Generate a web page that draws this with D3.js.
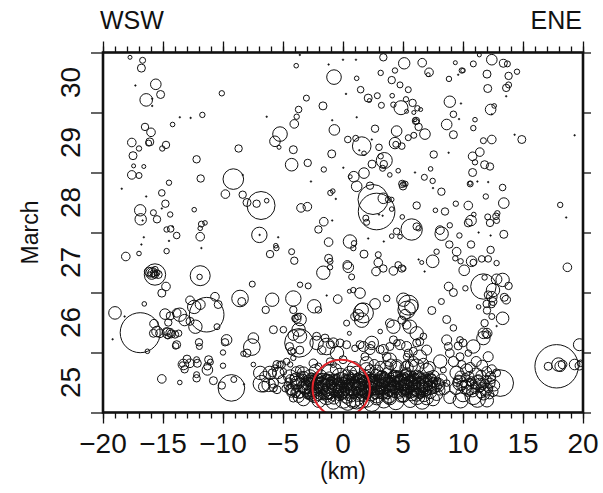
<!DOCTYPE html>
<html>
<head>
<meta charset="utf-8">
<script src="https://cdn.jsdelivr.net/npm/d3@7"></script>
<style>
  body { margin: 0; background: #fff; }
  svg text { font-family: "Liberation Sans", Arial, Helvetica, sans-serif; fill: #111; }
</style>
</head>
<body>
<div id="chart"></div>
<script>
// distance along profile (km), time (day of March), symbol size
var mainshock = [-0.15, 25.40, 28.7];

var quakesWest = [
  [-17.75,30.92,2],[-16.7,30.87,3],[-16.8,30.74,4],[-17.3,30.45,0.8],[-15.6,30.47,5.3],[-15.2,30.30,4],
  [-16.4,30.21,6.3],[-15.9,30.23,0.8],[-15.9,30.11,0.8],[-10.1,30.32,2.7],[-3.9,30.78,2.3],[-3.6,30.96,0.8],
  [-1.2,30.80,0.8],[0,30.88,0.8],[-0.75,30.59,7.3],[0.25,30.31,0.8],[-3.05,30.24,3],[-1.67,30.11,4],
  [-3.7,30.05,3.3],[-3.86,29.93,2.7],[-4.06,29.81,4.3],[-6.36,29.93,0.8],[-0.9,29.87,0.8],[-0.72,29.71,5.3],
  [0.4,29.55,3.3],[-5.25,29.64,7.3],[-5.67,29.52,5.3],[-5.33,29.42,2],[-4.14,29.38,4],[-0.94,29.31,4],
  [-4.28,29.13,6.3],[-2.94,29.16,3.7],[-1.6,29.05,2.7],[0.03,29.08,0.8],[0.6,28.93,2],[-2.67,28.85,0.8],
  [-9.14,28.89,10.3],[-8.36,28.96,0.8],[-11.86,28.9,3.7],[-14.5,28.83,2.7],[-18.44,28.73,0.8],[-12.2,29.22,3.7],
  [-8.7,29.40,3.7],[-11.72,29.96,2.7],[-12.7,29.91,0.8],[-13.6,29.92,0.8],[-14.2,29.8,2.3],[-16.5,29.76,3.7],
  [-16.0,29.67,4.3],[-16.1,29.51,4],[-16.2,29.49,3],[-17.6,29.5,4.3],[-17.0,29.4,2.7],[-14.75,29.46,3.7],
  [-15.06,29.40,2.7],[-17.5,29.28,4],[-17.45,29.11,2],[-16.6,29.1,2],[-17.6,28.96,4.3],[-17.0,28.95,3],
  [-16.4,28.6,0.8],[-15.1,28.66,3.3],[-14.8,28.48,3.7],[-16.9,28.37,5.7],[-16.86,28.22,5.7],[-16.7,28.2,0.8],
  [-15.8,28.33,3],[-15.5,28.22,3.7],[-14.4,28.3,2.7],[-15.1,28.4,0.8],[-14.7,28.05,2.7],[-14.36,28.06,3.3],
  [-13.86,27.95,3.3],[-14.2,28.1,0.8],[-14.5,27.86,0.8],[-16.6,27.92,0.8],[-16.8,27.8,0.8],[-14.7,27.69,2.7],
  [-17.0,27.65,2.3],[-18.1,27.6,4.3],[-12.4,28.38,2.3],[-11.8,28.14,3],[-11.5,28.16,2.3],[-11.9,28.07,2.3],
  [-11.9,27.93,4.3],[-11.8,27.74,0.8],[-9.8,28.64,4.3],[-8.36,28.63,3.7],[-8.0,28.5,4],[-6.83,28.45,14],
  [-7.2,28.48,3.7],[-6.36,28.53,2.3],[-6.97,27.96,7.7],[-6.95,27.96,0.8],[-5.4,27.92,0.8],[-5.6,27.78,2.3],
  [-5.55,27.74,2.7],[-6.08,27.64,3.7],[-4.28,27.68,3],[-4.06,27.53,3.7],[-3.5,28.41,4.3],[-2.97,28.43,4.3],
  [-1.05,28.66,2.7],[-0.85,28.69,2.3],[-0.6,28.56,0.8],[-0.9,28.2,0.8],[-1.6,28.18,4.3],[-2.05,28.05,3.7],
  [-1.2,27.84,4.3],[-1.2,27.57,4],[-1.08,27.52,3],[-1.64,27.33,6.7],[-1.08,27.42,2.7],[-11.9,27.28,10],
  [-11.95,27.26,2.7],[-15.94,27.32,6],[-16.2,27.35,4.3],[-15.9,27.33,4.3],[-15.8,27.32,3.3],[-15.67,27.38,3.3],
  [-16.1,27.3,2.7],[-15.67,27.3,3.7],[-15.4,27.3,4],[-15.5,27.33,3],[-15.67,27.3,10.7],[-14.75,27.1,4.3],
  [-15.1,26.99,4],[-16.56,26.81,2.3],[-19.0,26.66,6.3],[-18.2,26.6,0.8],[-16.9,26.33,20],[-15.75,26.48,4.3],
  [-15.5,26.35,5.3],[-15.8,26.32,4],[-15.25,26.32,4.3],[-14.7,26.35,4],[-14.4,26.33,4.3],[-14.6,26.32,5.3],
  [-14.3,26.31,4],[-14.0,26.3,3.7],[-13.7,26.32,3.3],[-14.6,26.27,2.7],[-14.83,26.64,5.3],[-14.4,26.61,4],
  [-13.6,26.63,6.7],[-13.86,26.66,4.3],[-14.56,26.5,3.7],[-13.2,26.54,5.7],[-12.75,26.87,4.3],[-12.4,26.76,6.7],
  [-11.9,26.8,5],[-12.75,26.52,4],[-11.36,26.63,17.3],[-12.3,26.43,6.7],[-10.67,26.93,4.3],[-10.4,26.8,4],
  [-10.5,26.43,3],[-8.58,26.9,8.3],[-8.44,26.85,4],[-7.56,27.14,3],[-5.9,26.88,6.7],[-6.44,26.71,3.7],
  [-4.14,26.9,7.7],[-4.14,26.71,3.7],[-2.4,26.77,6.7],[-2.05,26.71,3.3],[-3.58,27.13,2.7],[-2.9,27.11,3],
  [-0.44,26.89,4.3],[-1.36,26.95,0.8],[-3.58,26.55,6.3],[-3.86,26.56,4.3],[-4.0,26.57,3.3],[-3.75,26.6,3.3],
  [-3.7,26.38,6.7],[-4.14,26.29,5.3],[-3.58,26.27,6.7],[-4.97,26.38,3.3],[-5.8,26.38,4],[-2.2,26.27,4],
  [-1.5,26.24,4],[-9.7,26.21,5.3],[-7.47,26.24,5.3],[-16.3,26.02,2.3],[-19.2,26.22,0.8],[-13.95,26.11,3.3],
  [-13.86,26.13,4],[-13.4,25.8,2.7],[-15.1,25.56,4.3],[-13.6,25.5,2.3],[-12.0,26.17,3.7],[-11.97,26.1,3],
  [-9.83,26.17,3.7],[-10.0,26.0,2.7],[-7.6,26.09,8.3],[-8.3,25.98,2.7],[-7.47,25.8,2.3],[-13.0,25.89,4],
  [-12.75,25.82,4.3],[-12.14,25.82,4],[-12.2,25.88,3],[-13.3,25.8,5.3],[-13.2,25.72,3.7],[-11.2,25.88,4],
  [-11.05,25.84,3],[-11.3,25.77,3.7],[-11.3,25.71,5.3],[-10.0,25.78,2.7],[-12.2,25.57,3.7],[-12.2,25.63,3],
  [-10.8,25.53,4],[-9.3,25.41,13.3],[-10.1,25.45,3.7],[-9.1,25.55,3],[-8.25,25.47,0.8],[-8.0,25.99,4]
];

var quakesEast = [
  [3.36,30.92,3.7],[1.08,30.88,0.8],[5.1,30.82,5.7],[6.6,30.83,4.3],[7.17,30.67,4.3],[7.1,30.63,2],
  [9.36,30.83,2],[9.9,30.70,2.7],[10.0,30.70,2.3],[10.86,30.81,3],[11.36,30.96,2],[12.4,30.88,5.3],
  [13.36,30.82,4],[13.7,30.81,3],[14.5,30.68,2.7],[13.8,30.61,3.7],[12.0,30.64,4],[3.14,30.66,2.7],
  [4.33,30.70,2.7],[1.14,30.57,2.3],[4.06,30.54,3.7],[4.75,30.46,3],[5.44,30.38,3],[8.83,30.56,2.7],
  [9.6,30.63,0.8],[1.47,30.38,3.3],[2.1,30.24,4],[2.2,30.2,2],[2.86,30.28,3],[3.2,30.12,3],
  [4.1,30.28,2.3],[4.83,30.08,7],[4.2,30.13,2.7],[5.25,30.22,2.7],[5.8,30.16,3.7],[6.2,30.07,2.7],
  [6.47,30.05,2],[5.9,30.0,2],[5.3,30.02,2],[12.06,30.4,4],[13.6,30.41,3.7],[13.8,30.46,3],
  [13.6,30.27,0.8],[8.9,30.18,5.7],[9.83,30.15,0.8],[12.3,30.05,5.3],[12.6,30.11,2.3],[12.4,29.97,0.8],
  [6.08,29.86,3.7],[6.1,29.85,2.7],[6.0,29.88,2],[6.3,29.76,3.7],[6.83,29.64,5.3],[5.9,29.62,3],
  [5.44,29.58,3],[4.47,29.69,5.3],[4.33,29.49,5.7],[4.4,29.47,3],[4.9,29.44,3.3],[2.67,29.73,3.7],
  [1.14,29.92,0.8],[1.56,29.44,9.3],[1.06,29.57,3],[2.4,29.55,0.8],[1.75,29.32,2.3],[1.36,29.37,0.8],
  [3.0,29.42,3.3],[3.44,29.2,8],[3.14,29.27,2.7],[3.4,29.14,3.7],[3.3,29.07,3],[2.42,29.14,4],
  [1.75,28.99,5.3],[0.9,28.93,5.3],[1.14,28.77,5.3],[3.9,28.96,2.3],[4.6,29.03,2.3],[5.2,28.81,2.7],
  [5.0,28.77,3.7],[6.0,29.0,0.8],[6.78,28.92,3],[7.3,29.06,2.3],[7.47,28.86,2.7],[7.56,29.3,3.7],
  [8.8,29.33,0.8],[8.64,29.8,5.3],[9.2,29.63,4],[9.2,29.97,3.3],[9.67,29.89,0.8],[11.0,29.88,2.3],
  [10.86,29.74,2.7],[11.7,29.53,3],[12.4,29.55,4.3],[11.4,29.34,4.3],[10.8,29.27,4.3],[11.0,29.17,2.7],
  [11.8,29.13,4],[12.25,29.1,3.7],[10.8,29.0,4],[10.6,28.81,3],[10.6,28.82,2],[11.2,28.85,0.8],
  [12.1,28.84,0.8],[13.3,28.75,3.3],[14.3,29.63,0.8],[14.9,29.55,4],[19.3,29.62,0.8],
  [2.25,28.78,3.7],[2.5,28.55,15],[2.8,28.35,18.3],[3.36,28.57,5.3],[3.78,28.55,3],[4.06,28.55,2.3],
  [1.9,28.24,3],[1.97,28.17,3],[4.06,28.39,2.3],[3.0,28.3,0.8],[3.3,28.28,0.8],[4.94,28.81,3.7],
  [5.0,28.81,2.3],[4.94,28.26,2.3],[6.14,28.45,3.7],[8.2,28.68,3.7],[11.9,28.6,2.7],[13.4,28.49,5.3],
  [10.44,28.45,4.3],[9.4,28.48,2.7],[8.5,28.35,3.7],[7.7,28.37,2.3],[7.5,28.74,0.8],[10.67,28.2,5.3],
  [10.44,28.16,4],[10.9,28.3,2.3],[12.06,28.26,3],[12.25,28.16,3.7],[12.75,28.27,3.3],[12.8,28.2,3],
  [12.86,28.32,2.7],[11.3,28.0,0.8],[12.3,27.95,0.8],[13.4,27.97,4],[5.72,28.05,10.7],[6.14,28.1,3.7],
  [6.3,28.07,2.7],[4.47,28.02,3.3],[4.75,27.93,2.3],[4.06,27.94,2.3],[8.22,27.98,6.7],[8.08,28.04,4.3],
  [8.9,28.12,2.7],[9.7,27.95,2.7],[8.86,27.8,3.7],[9.47,27.68,4.3],[9.36,27.57,2.7],[9.8,27.52,2.7],
  [10.67,27.8,3.7],[10.72,27.52,5.3],[10.86,27.5,3.3],[10.1,27.37,5.3],[11.56,27.56,3.3],[12.1,27.56,3.3],
  [12.3,27.71,3.7],[12.8,27.49,2.7],[7.8,27.68,2.7],[7.47,27.52,6.3],[6.56,27.5,2],[6.3,27.55,0.8],
  [6.8,27.35,0.8],[4.6,27.46,3.3],[4.9,27.4,3.7],[5.03,27.4,2.7],[4.2,27.36,4.3],[3.36,27.4,3.7],
  [2.94,27.5,4.3],[2.75,27.35,4.3],[2.94,27.63,3],[1.75,27.64,4],[0.58,27.85,6.7],[0.92,27.82,2.7],
  [0.86,27.74,2.7],[2.1,27.9,0.8],[3.4,27.85,0.8],[0.44,27.42,5.3],[0.36,27.46,4.3],[0.72,27.26,3],
  [1.42,26.99,5.3],[0.86,27.04,2.7],[0.53,27.02,2],[2.67,26.81,5.3],[3.64,26.9,3.3],[1.56,26.71,6.7],
  [1.28,26.63,5.3],[1.56,26.54,7.3],[1.0,26.6,4.3],[1.7,26.66,10],[0.3,26.49,3],[0.53,26.32,2],
  [3.1,26.35,2.3],[4.2,26.43,6.7],[3.9,26.49,4.3],[5.03,26.88,6.7],[5.3,26.71,8.7],[5.44,26.79,10],
  [5.7,26.77,6.7],[5.17,26.63,5.3],[4.9,26.54,4],[5.3,26.46,4.3],[5.58,26.43,6.7],[6.14,26.32,6.7],
  [7.4,26.7,4],[8.2,26.85,3],[8.64,26.55,4],[9.2,26.41,3.3],[8.8,27.1,4.3],[9.2,27.0,4],
  [10.2,27.07,2.7],[11.7,27.1,12.7],[11.8,27.25,2.7],[12.5,27.04,6.7],[12.8,27.22,5.3],[13.3,27.21,6.7],
  [13.8,27.11,3.7],[13.44,26.92,4],[13.6,26.88,4.3],[12.4,26.93,5.3],[12.1,26.96,4],[11.97,26.81,3.7],
  [11.3,26.76,2.3],[12.5,26.85,4],[12.4,26.8,3.3],[12.0,26.7,3.7],[12.4,26.6,3],[13.3,26.57,6.3],
  [11.8,26.49,3.7],[12.8,26.44,0.8],[11.7,26.32,5.3],[12.0,26.3,3.7],[18.1,28.46,2.7],[18.6,28.25,0.8],
  [18.7,27.42,4.3]
];

// March 25 sequence near the hypocentre
var quakesBand = [
  [-6.9,25.66,6.7],[-6.5,25.6,5.3],[-5.9,25.66,4],[-5.67,25.74,3.3],[-5.25,25.8,3.3],[-6.2,25.46,6.7],
  [-5.8,25.49,5],[-6.6,25.43,5.3],[-5.5,25.38,4],[-5.1,25.55,4],[-4.97,25.68,3.3],[-4.3,26.02,3.7],
  [-4.45,26.1,4],[-4.14,25.91,2.7],[-4.4,25.6,6.7],[-3.86,25.55,6.7],[-3.3,25.66,6],[-2.75,25.6,6.7],
  [-4.4,25.38,5],[-3.7,25.35,6.7],[-3.0,25.38,6.7],[-2.6,25.27,5],[-4.14,25.24,4],[-2.2,25.43,6],
  [-3.6,25.71,4.3],[-1.64,25.43,13.3],[-0.5,25.41,10],[0.86,25.32,13.3],[-1.08,25.66,8.3],[-0.25,25.6,8.3],
  [0.58,25.66,6.7],[-1.36,25.27,8.3],[0.03,25.21,8.3],[1.14,25.18,7.3],[1.42,25.49,8.3],[-1.36,26.1,8.3],
  [-0.5,25.99,6.7],[-0.8,26.16,5],[0.3,26.13,4],[1.0,26.07,3.3],[1.7,26.1,5],[2.4,26.13,3.3],
  [3.1,26.05,4],[3.9,26.1,4],[4.5,26.16,3.3],[5.3,26.1,5],[5.86,26.02,4],[6.14,26.16,4],
  [1.97,25.82,6.7],[3.1,25.77,5],[3.9,25.88,6.7],[4.47,25.77,5],[5.3,25.8,4],[5.86,25.85,5],
  [2.25,25.71,5],[2.5,25.49,6.7],[3.36,25.55,6.7],[4.2,25.43,6.7],[5.03,25.55,6.7],[5.86,25.49,6.7],
  [2.8,25.27,6.7],[3.9,25.24,6.7],[5.03,25.27,6],[6.14,25.3,6.7],[1.97,25.32,6],[3.64,25.66,5],
  [5.3,25.66,5],[1.42,26.13,4],[2.4,26.16,6.7],[2.25,26.05,5],[1.83,25.93,4],[4.2,26.21,4],
  [4.75,26.13,5],[5.44,25.99,4],[5.3,25.93,3.3],[3.64,25.93,4.3],[3.36,26.05,5],[6.4,25.93,6.7],
  [6.97,26.04,5],[6.7,26.27,3.3],[6.4,26.18,4],[8.64,26.21,5],[8.78,26.1,4],[9.6,26.11,4],
  [9.75,26.21,3.3],[10.0,26.16,4],[8.9,25.99,4.3],[8.1,25.85,6.7],[9.2,25.85,5],[9.75,25.93,4],
  [10.44,25.99,3.3],[10.86,26.1,6.7],[11.7,26.24,6.7],[12.0,26.32,5],[11.1,25.85,5],[12.1,25.93,5],
  [9.9,25.8,4],[-3.67,26.16,14.3],[-2.2,26.16,6.7],[-1.78,26.04,4.3],[-1.08,26.13,3.7],[-0.25,26.16,4],
  [-2.47,25.82,4.3],[-2.05,25.77,3.3],[-1.08,25.85,3.7],[-0.8,25.8,3],[0.0,25.88,4],
  [-6.8,25.48,8.3],[-5.8,25.41,4],[-6.1,25.66,6.7],[-5.4,25.66,5.7],[-5.5,25.8,4],[-5.1,25.8,3.7],
  [-4.7,25.85,3.3],[-4.4,25.8,2.7],[-4.14,26.02,2.7],[-3.6,26.04,4],
  [0.3,25.6,6.7],[1.14,25.66,6.7],[1.97,25.71,7.3],[2.8,25.68,6.7],[3.64,25.74,6.7],[4.47,25.77,6.7],
  [5.3,25.74,6.7],[6.14,25.77,7.3],[6.97,25.71,6.7],[7.53,25.6,6],[0.58,25.35,6.7],[1.42,25.38,8.3],
  [2.25,25.41,6.7],[3.1,25.43,7.3],[3.9,25.46,6.7],[4.75,25.49,6.7],[5.58,25.46,7.3],[6.4,25.43,8.3],
  [7.25,25.41,6.7],[0.86,25.18,6.7],[1.97,25.21,7.3],[2.8,25.24,6.7],[3.9,25.27,6.7],[5.03,25.3,7.3],
  [6.14,25.27,8.3],[6.97,25.24,6.7],[7.8,25.3,6],[7.94,25.46,6.7],
  [9.47,25.66,6.7],[10.3,25.71,6],[11.1,25.63,6.7],[11.97,25.68,5],[9.75,25.49,7.3],[10.58,25.43,8.3],
  [11.4,25.46,6.7],[12.25,25.49,5],[10.0,25.3,7.3],[10.86,25.27,8.3],[11.7,25.32,6.7],[12.5,25.35,5],
  [13.1,25.49,13.3],[12.8,25.66,4],[8.36,25.71,3],[8.64,25.49,3.3]
];

var quakesCore = [
  [-4.6,25.45,4],[-4.5,25.52,3.5],[-4.3,25.33,4.5],[-4.0,25.47,5],[-3.9,25.41,3.5],[-4.1,25.58,4],
  [-3.5,25.5,4.5],[-3.4,25.42,5.5],[-3.6,25.3,3.8],[-3.3,25.57,4],[-3.1,25.46,5],[-2.9,25.52,4.2],
  [-3.0,25.31,4.6],[-2.8,25.41,3.6],[-2.6,25.48,5.2],[-2.4,25.36,4.4],[-2.5,25.55,4],[-2.3,25.44,3.4],
  [-2.0,25.5,5],[-1.9,25.39,4.6],[-2.1,25.29,5.4],[-1.8,25.58,4.2],[-2.0,25.45,3.2],[-1.5,25.47,4.8],
  [-1.4,25.36,5.2],[-1.6,25.55,4],[-1.3,25.25,4.6],[-1.5,25.42,3],[-1.0,25.5,5.5],[-0.9,25.4,4.2],
  [-1.1,25.31,5],[-0.8,25.57,4.4],[-1.0,25.45,3.4],[-0.5,25.48,4.8],[-0.4,25.35,5.6],[-0.6,25.56,4.2],
  [-0.3,25.27,4.4],[-0.5,25.42,3.2],[0.0,25.5,5],[0.1,25.4,4.4],[-0.1,25.3,5.2],[0.2,25.58,4],
  [0.0,25.45,3],[0.5,25.47,5.4],[0.6,25.37,4.6],[0.4,25.55,4.2],[0.7,25.26,5],[0.5,25.42,3.4],
  [1.0,25.5,4.8],[1.1,25.41,5.2],[0.9,25.31,4.4],[1.2,25.59,4],[1.0,25.45,3],[1.5,25.48,5],
  [1.6,25.36,4.6],[1.4,25.56,4.4],[1.7,25.27,5.2],[1.5,25.43,3.2],[2.0,25.52,5.2],[2.1,25.42,4.4],
  [1.9,25.33,5],[2.2,25.6,4.2],[2.0,25.47,3],[2.5,25.5,4.8],[2.6,25.39,5.4],[2.4,25.58,4],
  [2.7,25.3,4.6],[2.5,25.45,3.4],[3.0,25.53,5],[3.1,25.43,4.4],[2.9,25.34,5.2],[3.2,25.62,4.2],
  [3.0,25.48,3],[3.5,25.5,5.4],[3.6,25.4,4.6],[3.4,25.59,4.4],[3.7,25.31,5],[3.5,25.46,3.2],
  [4.0,25.54,5],[4.1,25.44,4.8],[3.9,25.35,5.2],[4.2,25.63,4],[4.0,25.49,3.4],[4.5,25.52,5.2],
  [4.6,25.41,4.4],[4.4,25.6,4.6],[4.7,25.32,5],[4.5,25.47,3],[5.0,25.55,4.8],[5.1,25.45,5.4],
  [4.9,25.36,4.4],[5.2,25.64,4.2],[5.0,25.5,3.2],[5.5,25.53,5],[5.6,25.42,4.6],[5.4,25.61,4.4],
  [5.7,25.33,5.2],[5.5,25.48,3],[6.0,25.56,5.2],[6.1,25.46,4.4],[5.9,25.37,5],[6.2,25.64,4],
  [6.0,25.5,3.4],[6.5,25.52,4.8],[6.6,25.42,5.4],[6.4,25.6,4.2],[6.7,25.33,4.6],[7.0,25.55,5],
  [7.1,25.45,4.4],[6.9,25.36,5.2],[7.2,25.62,3.8],[7.5,25.5,4.6],[7.6,25.4,5],[7.4,25.58,4],
  [8.0,25.47,4.4],[8.1,25.37,4.8],[9.6,25.55,4.4],[9.9,25.45,5],[10.2,25.58,4.2],[10.4,25.36,5.4],
  [10.7,25.52,4.6],[11.0,25.4,5],[11.3,25.56,4.2],[11.5,25.33,5.2],[11.8,25.48,4.4],[12.1,25.41,4.6],
  [12.4,25.55,4],[10.1,25.48,3.4],[10.9,25.45,3.2],[11.6,25.44,3.6],[12.2,25.3,4.4],
  [-4.2,25.38,6],[-3.8,25.5,6.5],[-3.7,25.26,5.5],[-3.2,25.44,7],[-3.25,25.6,5],[-2.7,25.33,6.5],
  [-2.85,25.5,7.5],[-2.2,25.56,6],[-2.35,25.28,7],[-1.75,25.45,8],[-1.85,25.62,5.5],[-1.2,25.34,7.5],
  [-1.25,25.53,6.5],[-0.7,25.47,8.5],[-0.75,25.24,6],[-0.2,25.55,7],[-0.15,25.37,8],[0.3,25.28,7.5],
  [0.35,25.52,6.5],[0.8,25.42,8],[0.85,25.6,6],[1.3,25.3,7],[1.25,25.5,8.5],[1.75,25.4,7.5],
  [1.8,25.6,6.5],[2.3,25.33,8],[2.35,25.52,7],[2.85,25.44,8.5],[2.75,25.62,6],[3.3,25.36,7.5],
  [3.25,25.56,8],[3.8,25.47,7],[3.75,25.26,6.5],[4.3,25.58,7.5],[4.35,25.38,8],[4.8,25.5,8.5],
  [4.85,25.28,6.5],[5.3,25.42,7.5],[5.25,25.6,7],[5.8,25.5,8],[5.75,25.31,7],[6.3,25.38,7.5],
  [6.35,25.58,6.5],[6.8,25.48,8],[6.75,25.28,6],[7.3,25.52,7],[7.25,25.34,6.5],[7.7,25.44,6],
  [8.2,25.55,5.5],[8.4,25.4,6],
  [-4.8,25.4,3.5],[-4.4,25.56,4.2],[-3.95,25.33,4.8],[-3.45,25.62,3.8],[-3.05,25.39,4.4],[-2.65,25.58,4.8],
  [-2.15,25.35,3.8],[-1.65,25.3,4.2],[-1.15,25.6,4.6],[-0.65,25.32,3.6],[-0.25,25.46,4.6],[0.25,25.34,3.8],
  [0.65,25.56,4.4],[1.15,25.36,3.6],[1.6,25.52,4.2],[2.05,25.29,3.8],[2.45,25.36,4.4],[2.95,25.57,3.6],
  [3.35,25.29,4.4],[3.85,25.55,3.8],[4.25,25.45,4.6],[4.65,25.57,3.8],[5.15,25.35,4.2],[5.6,25.56,3.6],
  [6.05,25.43,4.8],[6.45,25.3,3.8],[6.9,25.59,4.4],[7.35,25.43,4.2],[7.85,25.53,3.6],
  [-3.3,25.22,6.5],[-2.0,25.2,7],[-0.8,25.18,7.5],[0.4,25.17,8],[1.6,25.19,7],[2.4,25.16,8.5],
  [3.4,25.2,7.5],[4.4,25.18,8],[5.6,25.2,7],[6.6,25.18,7.5],[7.5,25.22,6.5],[8.9,25.25,6],
  [9.8,25.2,7.5],[11.2,25.22,8],[12.0,25.2,6.5],
  [-3.9,25.68,5],[-2.3,25.7,6],[-0.6,25.72,5.5],[0.9,25.74,6.5],[2.6,25.8,5],[4.0,25.8,5.5],
  [5.7,25.78,6],[6.7,25.82,5],[7.2,25.75,6],[10.6,25.75,5],[11.6,25.78,5.5],[12.4,25.72,4.5],
  [9.4,25.4,6],[9.8,25.6,5.5],[10.2,25.42,6.5],[10.5,25.6,5],[10.8,25.36,6],[11.2,25.5,7],
  [11.5,25.62,5],[11.9,25.38,6.5],[12.3,25.6,5],[12.6,25.45,5.5],[9.5,25.5,4],[10.6,25.5,3.6],
  [11.4,25.4,3.8],[12.0,25.55,4.2]
];

// many small events packed in the densest part of the band
var quakesCoreSmall = [
  [-3.0,25.35,2.5],[-2.95,25.48,3],[-3.05,25.56,2.2],[-2.9,25.27,3.2],[-2.7,25.44,2.8],[-2.65,25.3,2.4],
  [-2.75,25.53,3.2],[-2.6,25.62,2.2],[-2.4,25.5,3],[-2.35,25.41,2.4],[-2.45,25.24,2.8],[-2.3,25.6,2.6],
  [-2.1,25.38,2.6],[-2.05,25.52,3.2],[-2.15,25.46,2.2],[-2.0,25.32,3],[-1.8,25.49,2.8],[-1.75,25.35,2.4],
  [-1.85,25.55,3.2],[-1.7,25.26,2.6],[-1.5,25.52,3],[-1.45,25.39,2.6],[-1.55,25.33,2.2],[-1.4,25.6,2.8],
  [-1.2,25.44,2.4],[-1.15,25.28,3],[-1.25,25.58,2.6],[-1.1,25.5,3.2],[-0.9,25.35,2.8],[-0.85,25.47,2.2],
  [-0.95,25.53,3],[-0.8,25.23,2.6],[-0.6,25.5,2.6],[-0.55,25.4,3.2],[-0.65,25.3,2.4],[-0.5,25.6,2.8],
  [-0.3,25.45,3],[-0.25,25.33,2.6],[-0.35,25.55,2.2],[-0.2,25.25,2.8],[0.0,25.38,2.4],[0.05,25.53,3],
  [-0.05,25.47,2.6],[0.1,25.29,3.2],[0.3,25.5,2.8],[0.35,25.4,2.2],[0.25,25.58,3],[0.4,25.24,2.6],
  [0.6,25.46,3.2],[0.65,25.33,2.6],[0.55,25.53,2.4],[0.7,25.62,2.8],[0.9,25.4,2.6],[0.95,25.52,3],
  [0.85,25.27,2.2],[1.0,25.57,2.8],[1.2,25.47,3],[1.25,25.35,2.4],[1.15,25.55,2.8],[1.3,25.25,2.6],
  [1.5,25.52,2.6],[1.55,25.41,3.2],[1.45,25.31,2.4],[1.6,25.62,2.8],[1.8,25.45,2.8],[1.85,25.35,2.2],
  [1.75,25.57,3],[1.9,25.27,2.6],[2.1,25.5,3.2],[2.15,25.38,2.6],[2.05,25.6,2.4],[2.2,25.3,2.8],
  [2.4,25.46,2.6],[2.45,25.55,3],[2.35,25.34,2.8],[2.5,25.64,2.2],[2.7,25.52,2.8],[2.75,25.41,2.4],
  [2.65,25.28,3.2],[2.8,25.58,2.6],[3.0,25.45,3],[3.05,25.36,2.6],[2.95,25.6,2.8],[3.1,25.27,2.4],
  [3.3,25.52,2.6],[3.35,25.43,3.2],[3.25,25.33,2.8],[3.4,25.65,2.4],[3.6,25.48,2.8],[3.65,25.58,2.4],
  [3.55,25.36,3],[3.7,25.27,2.6],[3.9,25.53,3],[3.95,25.42,2.6],[3.85,25.31,2.4],[4.0,25.62,2.8],
  [4.2,25.48,2.6],[4.25,25.38,3.2],[4.15,25.57,2.8],[4.3,25.29,2.4],[4.5,25.55,2.8],[4.55,25.44,2.4],
  [4.45,25.35,3],[4.6,25.65,2.6],[4.8,25.47,3],[4.85,25.38,2.6],[4.75,25.6,2.8],[4.9,25.3,2.2],
  [5.1,25.53,2.6],[5.15,25.41,3],[5.05,25.33,2.4],[5.2,25.62,2.8],[5.4,25.5,3.2],[5.45,25.37,2.6],
  [5.35,25.57,2.4],[5.5,25.28,2.8],[5.7,25.46,2.8],[5.75,25.55,3],[5.65,25.35,2.4],[5.8,25.65,2.6],
  [6.0,25.52,2.6],[6.05,25.4,3],[5.95,25.31,2.8],[6.1,25.6,2.4],[6.3,25.47,3],[6.35,25.55,2.4],
  [6.25,25.36,2.8],[6.4,25.27,2.6],[6.6,25.5,2.8],[6.65,25.38,2.6],[6.55,25.6,3],[6.7,25.3,2.4],
  [6.9,25.45,2.6],[6.95,25.54,3],[6.85,25.34,2.4],[7.2,25.49,2.8],[7.25,25.4,2.4],[7.15,25.58,2.6],
  [7.5,25.45,2.6],[7.55,25.55,2.2]
];

var quakesFar = [
  [17.8,25.77,21.7],[17.1,25.77,4],[17.95,25.8,6.7],[18.1,25.77,5.3],[18.3,25.8,4.3],[19.3,25.8,5.3],
  [19.7,25.78,4.3],[19.8,25.82,3.3],[19.7,26.13,6]
];

var xMajor = [-20, -15, -10, -5, 0, 5, 10, 15, 20];
var xMinor = d3.range(-20, 21, 1);
var dayTicks = [25, 26, 27, 28, 29, 30, 31];
var dayLabels = [25, 26, 27, 28, 29, 30];

var W = 603, H = 493;
var plotL = 103, plotR = 583, plotT = 52.5, plotB = 412.5;

var svg = d3.select("#chart").append("svg")
  .attr("width", W).attr("height", H);

var x = d3.scaleLinear().domain([-20, 20]).range([plotL, plotR]);
var y = d3.scaleLinear().domain([25, 31]).range([plotB, plotT]);
var r = d3.scaleLinear().domain([0, 30]).range([0, 30]);

svg.append("clipPath").attr("id", "clip")
  .append("rect").attr("x", plotL).attr("y", plotT)
  .attr("width", plotR - plotL).attr("height", plotB - plotT);

var all = quakesWest.concat(quakesEast, quakesBand, quakesCore, quakesCoreSmall, quakesFar);

var g = svg.append("g").attr("clip-path", "url(#clip)");

g.selectAll("circle.eq")
  .data(all)
  .enter().append("circle")
  .attr("class", "eq")
  .attr("cx", function (d) { return x(d[0]); })
  .attr("cy", function (d) { return y(d[1]); })
  .attr("r", function (d) { return r(d[2]); })
  .attr("fill", function (d) { return d[2] < 1 ? "#111" : "none"; })
  .attr("stroke", "#111")
  .attr("stroke-width", function (d) { return d[2] < 1 ? 0.6 : 1; });

g.append("circle")
  .attr("cx", x(mainshock[0]))
  .attr("cy", y(mainshock[1]))
  .attr("r", r(mainshock[2]))
  .attr("fill", "none")
  .attr("stroke", "#e3242b")
  .attr("stroke-width", 2);

// axes, ticks outward
function styleAxis(sel) {
  sel.select(".domain").remove();
  sel.selectAll("line").attr("stroke", "#111").attr("stroke-width", 1.3);
  sel.selectAll("text").remove();
}

svg.append("g").attr("transform", "translate(0," + plotB + ")")
  .call(d3.axisBottom(x).tickValues(xMinor).tickSize(6)).call(styleAxis);
svg.append("g").attr("transform", "translate(0," + plotB + ")")
  .call(d3.axisBottom(x).tickValues(xMajor).tickSize(11)).call(styleAxis);
svg.append("g").attr("transform", "translate(0," + plotT + ")")
  .call(d3.axisTop(x).tickValues(xMinor).tickSize(6)).call(styleAxis);
svg.append("g").attr("transform", "translate(0," + plotT + ")")
  .call(d3.axisTop(x).tickValues(xMajor).tickSize(11)).call(styleAxis);
svg.append("g").attr("transform", "translate(" + plotL + ",0)")
  .call(d3.axisLeft(y).tickValues(dayTicks).tickSize(12)).call(styleAxis);
svg.append("g").attr("transform", "translate(" + plotR + ",0)")
  .call(d3.axisRight(y).tickValues(dayTicks).tickSize(8)).call(styleAxis);

svg.append("rect")
  .attr("x", plotL).attr("y", plotT)
  .attr("width", plotR - plotL).attr("height", plotB - plotT)
  .attr("fill", "none").attr("stroke", "#111").attr("stroke-width", 2.6);

// tick labels
svg.selectAll("text.xl").data(xMajor).enter().append("text")
  .attr("class", "xl")
  .attr("x", function (d) { return x(d); })
  .attr("y", 453)
  .attr("text-anchor", "middle")
  .style("font-size", "28px")
  .text(function (d) { return d < 0 ? "\u2212" + (-d) : d; });

svg.selectAll("text.yl").data(dayLabels).enter().append("text")
  .attr("class", "yl")
  .attr("transform", function (d) { return "translate(80," + y(d + 0.5) + ") rotate(-90)"; })
  .attr("text-anchor", "middle")
  .style("font-size", "28px")
  .text(function (d) { return d; });

svg.append("text").attr("x", 343).attr("y", 479)
  .attr("text-anchor", "middle").style("font-size", "23px").text("(km)");

svg.append("text")
  .attr("transform", "translate(38," + ((plotT + plotB) / 2) + ") rotate(-90)")
  .attr("text-anchor", "middle").style("font-size", "23px").text("March");

svg.append("text").attr("x", 100).attr("y", 29)
  .style("font-size", "25px").text("WSW");
svg.append("text").attr("x", 582).attr("y", 29)
  .attr("text-anchor", "end").style("font-size", "25px").text("ENE");
</script>
</body>
</html>
